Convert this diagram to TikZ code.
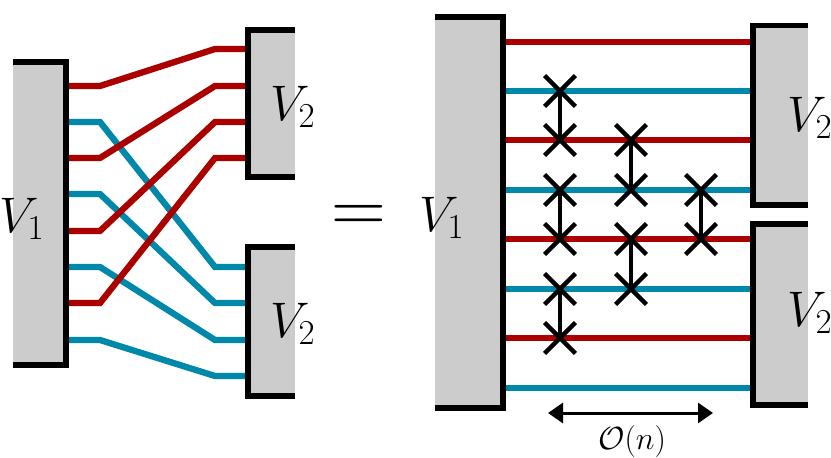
\RequirePackage{fix-cm}
\documentclass[tikz,border=0pt]{standalone}
\usetikzlibrary{arrows.meta,shapes.misc}
\definecolor{wred}{RGB}{170,0,0}
\definecolor{wblue}{RGB}{0,136,170}
\definecolor{boxgray}{RGB}{204,204,204}
\tikzset{
  redw/.style={draw=wred,line width=6.3pt,line join=miter},
  bluew/.style={draw=wblue,line width=6.3pt,line join=miter},
  border/.style={draw=black,line width=5.5pt,line join=miter},
  boxfill/.style={fill=boxgray},
  lab/.style={inner sep=0pt,font=\fontsize{50}{60}\selectfont},
  swapx/.style={draw=black,cross out,line width=4.3pt,minimum size=26.6pt,inner sep=0pt},
  swapl/.style={draw=black,line width=3.3pt},
}
\begin{document}
\begin{tikzpicture}[x=1pt,y=-1pt]
\clip (0,0) rectangle (831,458);
% ---------- left panel ----------
\foreach \i/\ya/\yb in {1/122/267, 2/194/303, 3/267/340, 4/340/376} {
  \coordinate (bs\i) at (66,\ya); \coordinate (be\i) at (248,\yb);
  \draw[bluew] (bs\i) -- ++(34,0) -- ([xshift=-33pt]be\i) -- (be\i);
}
\foreach \i/\ya/\yb in {1/86/49, 2/158/86, 3/231/122, 4/303/158} {
  \coordinate (rs\i) at (66,\ya); \coordinate (re\i) at (248,\yb);
  \draw[redw] (rs\i) -- ++(34,0) -- ([xshift=-33pt]re\i) -- (re\i);
}
% V1 left
\fill[boxfill] (13,62) rectangle (66,365);
\draw[border] (13,62) -- (66,62) -- (66,365) -- (13,365);
% V2 top left
\fill[boxfill] (248,30) rectangle (295,177);
\draw[border] (295,30) -- (248,30) -- (248,177) -- (295,177);
% V2 bottom left
\fill[boxfill] (248,247) rectangle (295,396);
\draw[border] (295,247) -- (248,247) -- (248,396) -- (295,396);
\node[lab,anchor=base west] (lv1) at (-1,232) {$V_1$};
\node[lab,anchor=base west] (lv2a) at (270,120) {$V_2$};
\node[lab,anchor=base west] (lv2b) at (270,337) {$V_2$};
% equals
\node[inner sep=0pt,anchor=base,font=\fontsize{76}{80}\selectfont] (eq) at (359,232) {$=$};
% ---------- right panel ----------
\foreach \i/\y in {1/42, 2/91, 3/140, 4/190, 5/239, 6/289, 7/338, 8/388} {
  \coordinate (ls\i) at (503,\y); \coordinate (le\i) at (753,\y);
}
\foreach \i in {2,4,6,8} { \draw[bluew] (ls\i) -- (le\i); }
\foreach \i in {1,3,5,7} { \draw[redw] (ls\i) -- (le\i); }
\fill[boxfill] (435,17) rectangle (503,408);
\draw[border] (435,17) -- (503,17) -- (503,408) -- (435,408);
\fill[boxfill] (753,25.5) rectangle (808,205);
\draw[border] (808,25.5) -- (753,25.5) -- (753,205) -- (808,205);
\fill[boxfill] (753,224) rectangle (808,405);
\draw[border] (808,224) -- (753,224) -- (753,405) -- (808,405);
\node[lab,anchor=base west] (rv1) at (419,231) {$V_1$};
\node[lab,anchor=base west] (rv2a) at (787,131) {$V_2$};
\node[lab,anchor=base west] (rv2b) at (787,326) {$V_2$};
% swaps
\foreach \n/\x/\y in {a1/560/91, a2/560/140, a3/560/190, a4/560/239, a5/560/289, a6/560/338,
                      b1/631/140, b2/631/190, b3/631/239, b4/631/289,
                      c1/701/190, c2/701/239} {
  \node[swapx] (\n) at (\x,\y) {};
}
\draw[swapl] (a1.center) -- (a2.center);
\draw[swapl] (a3.center) -- (a4.center);
\draw[swapl] (a5.center) -- (a6.center);
\draw[swapl] (b1.center) -- (b2.center);
\draw[swapl] (b3.center) -- (b4.center);
\draw[swapl] (c1.center) -- (c2.center);
% arrow
\coordinate (arl) at (548,413);
\coordinate (arr) at (713,413);
\draw[line width=3pt,{Triangle[length=15pt,width=20pt]}-{Triangle[length=15pt,width=20pt]}] (arl) -- (arr);
\node[inner sep=0pt,anchor=base,font=\fontsize{32}{36}\selectfont] (on) at (632,449.5) {$\mathcal{O}(n)$};
\end{tikzpicture}
\end{document}
